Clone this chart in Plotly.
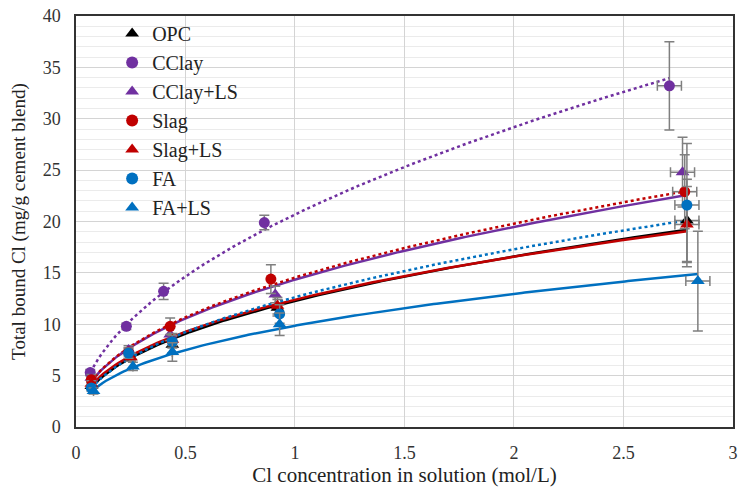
import numpy as np
import plotly.graph_objects as go

# ---- data ----
names = ["OPC", "CClay", "CClay+LS", "Slag", "Slag+LS", "FA", "FA+LS"]

opc_x = [0.07, 0.25, 0.44, 0.92, 2.79]
opc_y = [4.0, 6.8, 8.0, 11.6, 20.1]
opc_ey = [0.3, 0.4, 0.8, 0.8, 4.0]

cclay_x = [0.065, 0.23, 0.40, 0.86, 2.71]
cclay_y = [5.3, 9.8, 13.2, 19.9, 33.2]
cclay_ey = [0.3, 0.3, 0.8, 0.7, 4.3]

cclayls_x = [0.07, 0.24, 0.43, 0.91, 2.77]
cclayls_y = [4.8, 7.5, 9.0, 12.9, 24.8]
cclayls_ey = [0.3, 0.4, 0.6, 0.8, 3.4]

slag_x = [0.07, 0.24, 0.43, 0.89, 2.78]
slag_y = [4.6, 7.3, 9.8, 14.4, 22.9]
slag_ey = [0.3, 0.4, 0.8, 1.4, 3.6]

slagls_x = [0.07, 0.25, 0.44, 0.92, 2.79]
slagls_y = [4.2, 6.8, 8.5, 11.8, 19.7]
slagls_ey = [0.3, 0.4, 0.6, 0.8, 3.7]

fa_x = [0.07, 0.24, 0.44, 0.93, 2.79]
fa_y = [3.8, 7.2, 8.3, 11.0, 21.6]
fa_ey = [0.3, 0.5, 0.6, 0.9, 6.0]

fals_x = [0.08, 0.26, 0.44, 0.93, 2.84]
fals_y = [3.5, 5.9, 7.3, 10.0, 14.2]
fals_ey = [0.3, 0.4, 0.9, 1.1, 4.85]

ex_last = 0.055  # horizontal error on the last point

x_ticks = [0, 0.5, 1, 1.5, 2, 2.5, 3]
y_ticks = [0, 5, 10, 15, 20, 25, 30, 35, 40]

xs = [opc_x, cclay_x, cclayls_x, slag_x, slagls_x, fa_x, fals_x]
ys = [opc_y, cclay_y, cclayls_y, slag_y, slagls_y, fa_y, fals_y]
eys = [opc_ey, cclay_ey, cclayls_ey, slag_ey, slagls_ey, fa_ey, fals_ey]

colors = ["#000000", "#7030A0", "#7030A0", "#C00000", "#C00000", "#0070C0", "#0070C0"]
symbols = ["triangle-up", "circle", "triangle-up", "circle", "triangle-up", "circle", "triangle-up"]
dashes = ["solid", "dot", "solid", "dot", "solid", "dot", "solid"]

FONT = "Liberation Serif"

fig = go.Figure()

# power-law trendlines (least squares fit on log-log, like a spreadsheet trendline)
for x, y, c, d in zip(xs, ys, colors, dashes):
    b, la = np.polyfit(np.log(x), np.log(y), 1)
    xt = np.linspace(min(x), max(x), 200)
    yt = np.exp(la) * xt ** b
    fig.add_trace(go.Scatter(x=xt, y=yt, mode="lines", showlegend=False,
                             line=dict(color=c, width=2.5, dash=d),
                             hoverinfo="skip"))

# data points with error bars
for n, x, y, ey, c, s in zip(names, xs, ys, eys, colors, symbols):
    exs = [0, 0, 0, 0, ex_last]
    fig.add_trace(go.Scatter(
        x=x, y=y, mode="markers", name=n,
        marker=dict(color=c, symbol=s, size=11 if s == "circle" else 12),
        error_y=dict(type="data", array=ey, color="#7f7f7f", thickness=1.5, width=5),
        error_x=dict(type="data", array=exs, color="#7f7f7f", thickness=1.5, width=5),
    ))

fig.update_layout(
    width=740, height=493,
    margin=dict(l=76, r=7, t=16, b=66, autoexpand=False),
    paper_bgcolor="white", plot_bgcolor="white",
    font=dict(family=FONT, size=18, color="#222"),
    legend=dict(x=0.055, y=1.005, xanchor="left", yanchor="top",
                bgcolor="rgba(0,0,0,0)", font=dict(family=FONT, size=20, color="#222"),
                itemsizing="constant", tracegroupgap=0, itemwidth=30),
    xaxis=dict(range=[0, 3.0005], tickmode="array", tickvals=x_ticks,
               ticktext=[f"{v:g}" for v in x_ticks], ticklabeloverflow="allow",
               automargin=False, ticklabelstandoff=9,
               showgrid=True, gridcolor="#d4d4d4", gridwidth=1,
               showline=True, linecolor="#333", linewidth=1.5, mirror=True, zeroline=False,
               ticks="", tickfont=dict(family=FONT, size=18, color="#333"),
               title=dict(text="Cl concentration in solution (mol/L)",
                          font=dict(family=FONT, size=21, color="#222"), standoff=2)),
    yaxis=dict(range=[0, 40], tickmode="array", tickvals=y_ticks,
               showgrid=True, gridcolor="#d4d4d4", gridwidth=1.2,
               minor=dict(dtick=1, showgrid=True, gridcolor="#ebebeb", gridwidth=1),
               showline=True, linecolor="#333", linewidth=1.5, mirror=True, zeroline=False,
               ticks="", ticklabelstandoff=10, ticklabeloverflow="allow",
               automargin=False,
               tickfont=dict(family=FONT, size=18, color="#333"),
               title=dict(text="Total bound Cl (mg/g cement blend)",
                          font=dict(family=FONT, size=19, color="#222"), standoff=12)),
)

# remove the browser's default 8px body margin so the 740x493 figure fills the window
fig.write_html("out.html", config={"displayModeBar": False},
               post_script="document.body.style.margin='0';")
